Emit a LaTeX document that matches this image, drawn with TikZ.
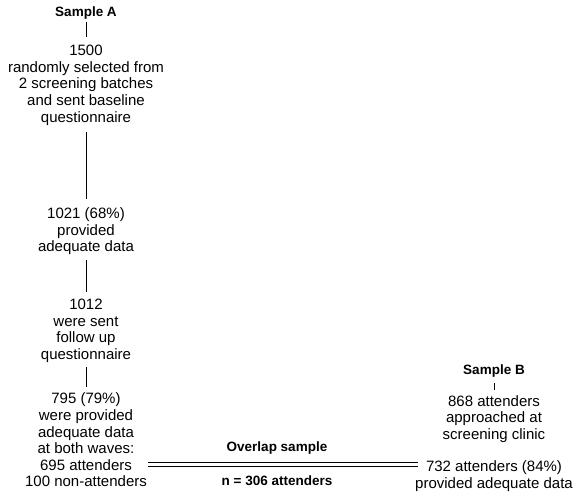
\documentclass[tikz,border=0pt]{standalone}
\usepackage{fontspec}
\setmainfont{Liberation Sans}
\usetikzlibrary{positioning}
\tikzset{bloc/.style={inner sep=0pt, align=center, font=\fontsize{15}{16.6}\selectfont}}
\tikzset{titre/.style={bloc, font=\fontsize{13.5}{16.6}\selectfont\bfseries}}
\tikzset{trait/.style={draw=black, line width=0.9pt}}
\tikzset{fin/.style={draw=black, line width=0.7pt}}

\begin{document}
\begin{tikzpicture}[x=1pt, y=-1pt]
\useasboundingbox (0,0) rectangle (576,491);
% sample A
\node[titre, anchor=north] (sA) at (86,7) {Sample A};
\node[bloc, below=25pt of sA] (b1500) {1500\\randomly selected from\\2 screening batches\\and sent baseline\\questionnaire};
\node[bloc, below=82pt of b1500] (b1021) {1021 (68\%)\\provided\\adequate data};
\node[bloc, below=44pt of b1021] (b1012) {1012\\were sent\\follow up\\questionnaire};
\node[bloc, below=30pt of b1012] (b795) {795 (79\%)\\were provided\\adequate data\\at both waves:\\695 attenders\\100 non-attenders};
\draw[trait, shorten <=2pt, shorten >=8pt] (sA) -- (b1500);
\draw[trait, shorten <=7pt, shorten >=8pt] (b1500) -- (b1021);
\draw[trait, shorten <=5pt, shorten >=7pt] (b1021) -- (b1012);
\draw[trait, shorten <=4pt, shorten >=6pt] (b1012) -- (b795);
% sample B
\node[titre, anchor=north] (sB) at (494,365) {Sample B};
\node[bloc, below=17pt of sB] (b868) {868 attenders\\approached at\\screening clinic};
\node[bloc, below=18pt of b868] (b732) {732 attenders (84\%)\\provided adequate data};
\draw[trait, shorten <=5pt, shorten >=5pt] (sB) -- (b868);
% overlap
\node[titre] (ov) at (277,448) {Overlap sample};
\node[titre] (n306) at (277,481) {n = 306 attenders};
\coordinate (dlA) at (148,462.5);
\coordinate (dlB) at (418,462.5);
\coordinate (dlC) at (148,466.5);
\coordinate (dlD) at (418,466.5);
\draw[fin] (dlA) -- (dlB);
\draw[fin] (dlC) -- (dlD);
\end{tikzpicture}
\end{document}
